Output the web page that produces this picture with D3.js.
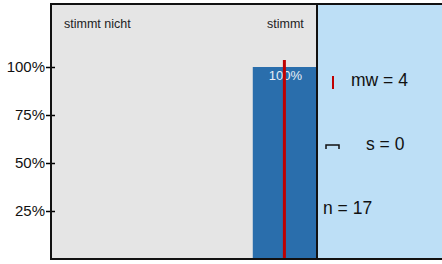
<!DOCTYPE html>
<html>
<head>
<meta charset="utf-8">
<script src="https://cdn.jsdelivr.net/npm/d3@7"></script>
<style>
  body { margin: 0; background: #fff; }
  text { font-family: "Liberation Sans", Arial, sans-serif; }
</style>
</head>
<body>
<script>
// answer scale 1..4, only the ends are labelled
var categories = [1, 2, 3, 4];
var endLabels = ["stimmt nicht", "stimmt"];
var shares = [0, 0, 0, 1];
var yTicks = [0.25, 0.5, 0.75, 1];
var stats = {mw: 4, s: 0, n: 17};

var w = 442, h = 264;
var plot = {left: 51, right: 316, top: 4, bottom: 259};

var svg = d3.select("body").append("svg")
    .attr("width", w)
    .attr("height", h);

var x = d3.scaleBand()
    .domain(categories)
    .range([plot.left, plot.right])
    .paddingInner(0.06)
    .paddingOuter(0.0);

// position of mean on the continuous answer scale
var xm = d3.scaleLinear()
    .domain([1, 4])
    .range([x(1) + x.bandwidth() / 2, x(4) + x.bandwidth() / 2]);

var y = d3.scaleLinear()
    .domain([0, 1])
    .range([plot.bottom, 67]);

// panels
svg.append("rect")
    .attr("x", plot.left).attr("y", plot.top)
    .attr("width", plot.right - plot.left).attr("height", plot.bottom - plot.top)
    .attr("fill", "#e5e5e5");
svg.append("rect")
    .attr("x", plot.right).attr("y", plot.top)
    .attr("width", w - plot.right).attr("height", plot.bottom - plot.top)
    .attr("fill", "#bddff6");

// bars
svg.selectAll("rect.bar")
    .data(categories.filter(function(d, i) { return shares[i] > 0; }))
    .enter().append("rect")
    .attr("class", "bar")
    .attr("x", function(d) { return x(d); })
    .attr("width", x.bandwidth())
    .attr("y", function(d) { return y(shares[d - 1]); })
    .attr("height", function(d) { return y(0) - y(shares[d - 1]); })
    .attr("fill", "#2a6eac");

svg.selectAll("text.val")
    .data(categories.filter(function(d, i) { return shares[i] > 0; }))
    .enter().append("text")
    .attr("class", "val")
    .attr("x", function(d) { return x(d) + 1 + x.bandwidth() / 2; })
    .attr("y", function(d) { return y(shares[d - 1]) + 13; })
    .attr("text-anchor", "middle")
    .attr("font-size", 13)
    .attr("fill", "#e8eef6")
    .text(function(d) { return d3.format(".0%")(shares[d - 1]); });

// mean line
svg.append("line")
    .attr("x1", xm(stats.mw)).attr("x2", xm(stats.mw))
    .attr("y1", y(1) - 7).attr("y2", plot.bottom)
    .attr("stroke", "#c00000")
    .attr("stroke-width", 3);

// end labels
svg.append("text")
    .attr("x", x(1) + 13).attr("y", 28)
    .attr("font-size", 12.5).attr("fill", "#222")
    .text(endLabels[0]);
svg.append("text")
    .attr("x", x(4) + 1 + x.bandwidth() / 2).attr("y", 28)
    .attr("text-anchor", "middle")
    .attr("font-size", 12.5).attr("fill", "#222")
    .text(endLabels[1]);

// y axis
var yAxis = svg.append("g")
    .attr("transform", "translate(" + plot.left + ",0)")
    .call(d3.axisLeft(y).tickValues(yTicks).tickSize(5).tickFormat(d3.format(".0%")));
yAxis.select(".domain").remove();
yAxis.selectAll(".tick line").attr("x2", 4).attr("x1", -5).attr("stroke", "#000").attr("stroke-width", 1.5);
yAxis.selectAll(".tick text")
    .attr("x", -6)
    .attr("font-size", 15)
    .attr("fill", "#111")
    .attr("font-family", "Liberation Sans, Arial, sans-serif");

// frame
svg.append("path")
    .attr("d", "M" + w + "," + plot.top + "H" + plot.left + "V" + plot.bottom + "H" + w)
    .attr("fill", "none").attr("stroke", "#111").attr("stroke-width", 2);
svg.append("line")
    .attr("x1", plot.right + 1).attr("x2", plot.right + 1)
    .attr("y1", plot.top).attr("y2", plot.bottom)
    .attr("stroke", "#111").attr("stroke-width", 2);

// statistics legend
var legend = svg.append("g");
legend.append("line")
    .attr("x1", 333).attr("x2", 333).attr("y1", 76).attr("y2", 89)
    .attr("stroke", "#c00000").attr("stroke-width", 2);
legend.append("text")
    .attr("x", 351).attr("y", 86)
    .attr("font-size", 17.5).attr("fill", "#111")
    .text("mw = " + stats.mw);
legend.append("path")
    .attr("d", "M326,149V145H339V149")
    .attr("fill", "none").attr("stroke", "#111").attr("stroke-width", 1.5);
legend.append("text")
    .attr("x", 366).attr("y", 150)
    .attr("font-size", 17.5).attr("fill", "#111")
    .text("s = " + stats.s);
legend.append("text")
    .attr("x", 323).attr("y", 214)
    .attr("font-size", 17.5).attr("fill", "#111")
    .text("n = " + stats.n);
</script>
</body>
</html>
